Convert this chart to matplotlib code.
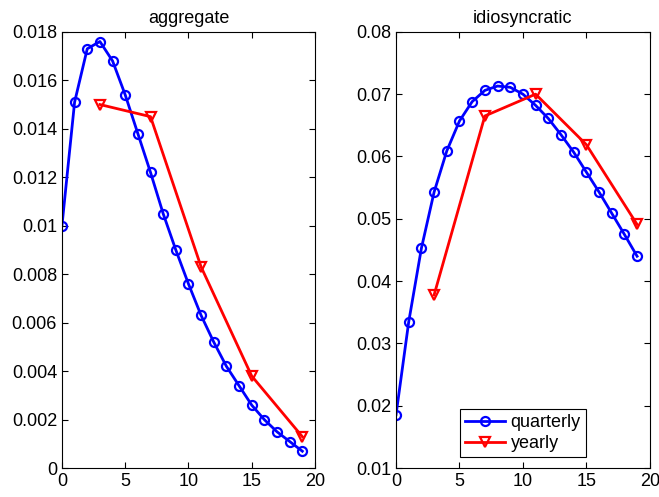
import numpy as np
import matplotlib
matplotlib.use('Agg')
import matplotlib.pyplot as plt

plt.rcParams['font.family'] = ['Liberation Sans', 'DejaVu Sans']

# horizons
q_x = list(range(20))
y_x = [3, 7, 11, 15, 19]

# aggregate
agg_q = [0.0100, 0.0151, 0.0173, 0.0176, 0.0168, 0.0154, 0.0138, 0.0122, 0.0105, 0.0090,
         0.0076, 0.0063, 0.0052, 0.0042, 0.0034, 0.0026, 0.0020, 0.0015, 0.0011, 0.0007]
agg_y = [0.0150, 0.0145, 0.0083, 0.0038, 0.0013]

# idiosyncratic
idio_q = [0.0186, 0.0335, 0.0453, 0.0543, 0.0609, 0.0657, 0.0688, 0.0706, 0.0713, 0.0711,
          0.0700, 0.0682, 0.0661, 0.0635, 0.0607, 0.0575, 0.0543, 0.0509, 0.0475, 0.0440]
idio_y = [0.0378, 0.0665, 0.0700, 0.0619, 0.0491]

fig = plt.figure(figsize=(6.59, 4.97), dpi=100)
ax1 = fig.add_axes([0.094, 0.058, 0.384, 0.878])
ax2 = fig.add_axes([0.601, 0.058, 0.385, 0.878])


def style(ax, ylim, yticks, fmt):
    ax.set_xlim(0, 20)
    ax.set_ylim(*ylim)
    ax.set_xticks([0, 5, 10, 15, 20])
    ax.set_yticks(yticks)
    ax.set_yticklabels([fmt(v) for v in yticks])
    ax.tick_params(direction='in', top=True, right=True, labelsize=13, length=4)
    for s in ax.spines.values():
        s.set_linewidth(0.8)


# left panel
ax1.plot(q_x, agg_q, color='#0000ff', lw=2, marker='o', ms=6.5, mfc='none', mew=1.6, label='quarterly')
ax1.plot(y_x, agg_y, color='#ff0000', lw=2, marker='v', ms=7.5, mfc='none', mew=1.6, label='yearly')
ax1.set_title('aggregate', fontsize=13)
yt1 = np.arange(0, 0.0181, 0.002)
style(ax1, (0, 0.018), yt1, lambda v: '0' if v == 0 else ('%.3f' % v).rstrip('0'))

# right panel
ax2.plot(q_x, idio_q, color='#0000ff', lw=2, marker='o', ms=6.5, mfc='none', mew=1.6, label='quarterly')
ax2.plot(y_x, idio_y, color='#ff0000', lw=2, marker='v', ms=7.5, mfc='none', mew=1.6, label='yearly')
ax2.set_title('idiosyncratic', fontsize=13)
yt2 = np.arange(0.01, 0.0801, 0.01)
style(ax2, (0.01, 0.08), yt2, lambda v: '%.2f' % v)

leg = ax2.legend(loc='lower center', fontsize=13, fancybox=False, edgecolor='black',
                 framealpha=1, handlelength=2.2, handletextpad=0.3, borderaxespad=0.6,
                 borderpad=0.3, labelspacing=0.2)
leg.get_frame().set_linewidth(0.8)

plt.savefig('out.png', dpi=100)
